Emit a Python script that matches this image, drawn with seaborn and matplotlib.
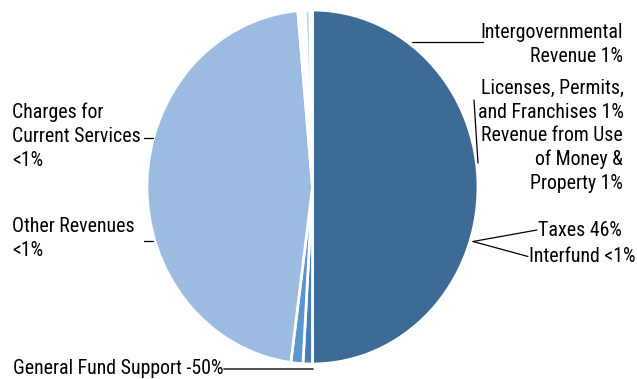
import matplotlib
matplotlib.use("Agg")
import matplotlib.pyplot as plt
from matplotlib import font_manager
import seaborn as sns

# slice order clockwise from 12 o'clock (shares of the pie)
sources = ["General Fund Support", "Revenue from Use of Money & Property",
           "Licenses, Permits, and Franchises", "Taxes", "Intergovernmental Revenue",
           "Charges for Current Services", "Other Revenues", "Interfund"]
shares = [50.0, 0.92, 1.17, 46.5, 0.7, 0.47, 0.1, 0.14]
slice_colors = ["#3E6A96", "#4A7DB8", "#5A95D0", "#9BBBE0", "#FFFFFF",
                "#C5D6EC", "#FFFFFF", "#FFFFFF"]

# label texts (as printed on the chart)
label_texts = {
    "Intergovernmental Revenue": "Intergovernmental\nRevenue 1%",
    "Licenses, Permits, and Franchises": "Licenses, Permits,\nand Franchises 1%",
    "Revenue from Use of Money & Property": "Revenue from Use\nof Money &\nProperty 1%",
    "Taxes": "Taxes 46%",
    "Interfund": "Interfund <1%",
    "Charges for Current Services": "Charges for\nCurrent Services\n<1%",
    "Other Revenues": "Other Revenues\n<1%",
    "General Fund Support": "General Fund Support -50%",
}

sns.set_theme(style="white")

# pick a narrow font if one is around, else shrink a normal one
fonts = font_manager.fontManager.ttflist
names = {f.name for f in fonts}
stretch = "normal"
if "Liberation Sans Narrow" in names:
    family, fs = "Liberation Sans Narrow", 14.3
elif "Roboto Condensed" in names:
    family, fs = "Roboto Condensed", 14.3
elif any(f.name == "DejaVu Sans" and f.stretch == "condensed" for f in fonts):
    family, fs, stretch = "DejaVu Sans", 12.5, "condensed"
else:
    family, fs = "Liberation Sans", 12.2
plt.rcParams['font.family'] = [family, 'DejaVu Sans']

W, H = 637, 379
fig = plt.figure(figsize=(W / 100, H / 100), dpi=100)

# ---- pie ----
ax = fig.add_axes([147 / W, 15 / H, 331 / W, 354 / H])
ax.pie(shares, colors=slice_colors, startangle=90, counterclock=False,
       wedgeprops=dict(edgecolor="white", linewidth=2.0))
ax.set_aspect("auto")
ax.set_xlim(-1, 1)
ax.set_ylim(-1, 1)
ax.axis("off")

# ---- labels and leader lines (pixel space overlay) ----
ov = fig.add_axes([0, 0, 1, 1])
ov.set_xlim(0, W)
ov.set_ylim(H, 0)
ov.axis("off")
ov.patch.set_alpha(0)

step = 24
# (x, first baseline, alignment)
placement = {
    "Intergovernmental Revenue": (623, 38, "right"),
    "Licenses, Permits, and Franchises": (624, 94, "right"),
    "Revenue from Use of Money & Property": (623, 141, "right"),
    "Taxes": (538, 236.5, "left"),
    "Interfund": (529, 261.5, "left"),
    "Charges for Current Services": (12, 118, "left"),
    "Other Revenues": (12, 232, "left"),
    "General Fund Support": (13, 373.5, "left"),
}
for key, (x, y0, ha) in placement.items():
    for i, line in enumerate(label_texts[key].split("\n")):
        ov.text(x, y0 + i * step, line, ha=ha, va="baseline", fontsize=fs,
                fontstretch=stretch, color="black")

leaders = [
    ([412, 483], [41.5, 41.5]),
    ([474, 478], [100, 163]),
    ([473, 537], [241.5, 230]),
    ([473, 528], [241.5, 256.5]),
    ([144, 153], [138, 138]),
    ([144, 153], [241, 241]),
]
for xs, ys in leaders:
    ov.plot(xs, ys, color="black", linewidth=0.9)
ov.plot([224, 313], [368.5, 368.5], color="#404040", linewidth=1.3)

fig.savefig("out.png", dpi=100)
